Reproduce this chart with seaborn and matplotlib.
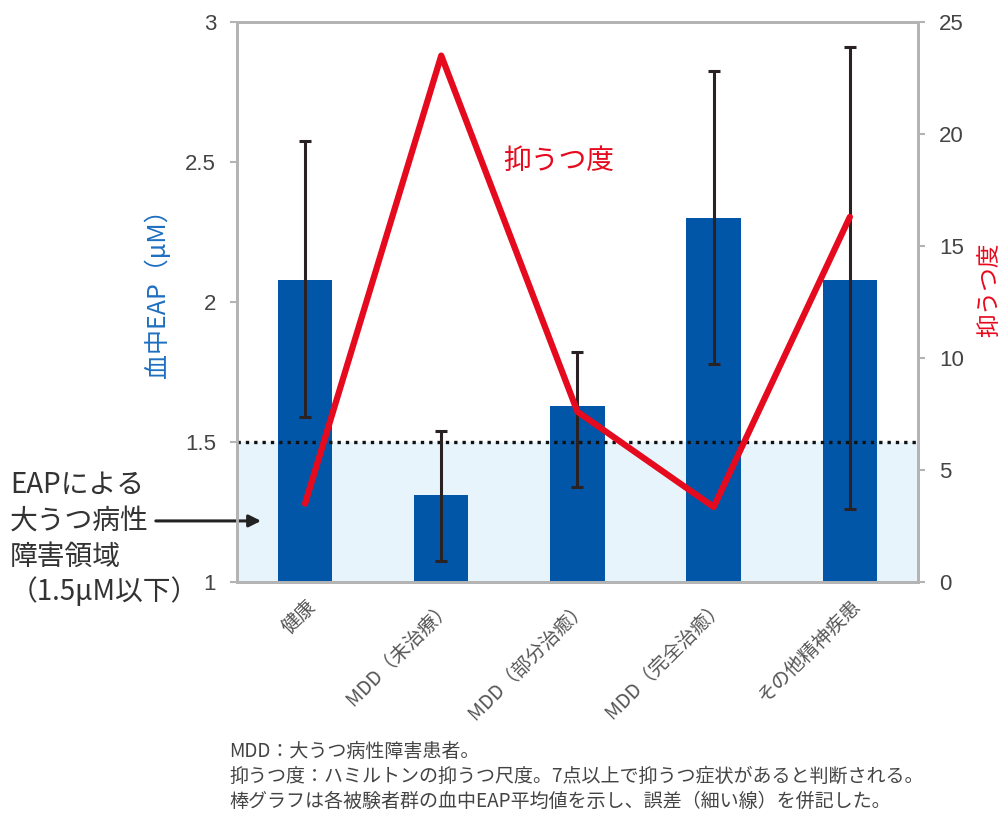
import matplotlib
matplotlib.use("Agg")
import matplotlib.pyplot as plt
import seaborn as sns
import numpy as np
import pandas as pd

# Groups and measurements
categories = ["健康", "MDD（未治療）", "MDD（部分治癒）", "MDD（完全治癒）", "その他精神疾患"]
eap_mean = [2.08, 1.31, 1.63, 2.30, 2.08]
eap_low = [1.59, 1.075, 1.34, 1.78, 1.26]
eap_high = [2.575, 1.54, 1.82, 2.825, 2.91]
depression = [3.5, 23.5, 7.6, 3.35, 16.3]
eap_threshold = 1.5

left_ticks = [1, 1.5, 2, 2.5, 3]
left_ticklabels = ["1", "1.5", "2", "2.5", "3"]
right_ticks = [0, 5, 10, 15, 20, 25]

footnotes = [
    "MDD：大うつ病性障害患者。",
    "抑うつ度：ハミルトンの抑うつ尺度。7点以上で抑うつ症状があると判断される。",
    "棒グラフは各被験者群の血中EAP平均値を示し、誤差（細い線）を併記した。",
]

sns.set_theme(style="white")
plt.rcParams["font.family"] = ["Noto Sans CJK JP", "DejaVu Sans"]

BLUE = "#0256A8"
RED = "#E60A1E"
GRAY = "#B4B4B4"
TEXT = "#333333"
NUM_FONT = ["Liberation Sans", "DejaVu Sans"]

df = pd.DataFrame({"group": categories, "eap": eap_mean, "dep": depression})

fig = plt.figure(figsize=(10.07, 8.21), dpi=100)
ax = fig.add_axes([0.2353, 0.2911, 0.9116 - 0.2353, 0.9732 - 0.2911])

# shaded region below the EAP threshold
ax.axhspan(1, eap_threshold, color="#E8F4FC", zorder=0, lw=0)

sns.barplot(data=df, x="group", y="eap", color=BLUE, saturation=1,
            width=0.4, errorbar=None, ax=ax, zorder=2, linewidth=0)

ax.axhline(eap_threshold, color="#111111", lw=2.4, ls=(0, (1, 1.5)), zorder=3)

xpos = np.arange(len(categories))
means = np.array(eap_mean)
yerr = [means - np.array(eap_low), np.array(eap_high) - means]
ax.errorbar(xpos, means, yerr=yerr, fmt="none", ecolor="#2a2222",
            elinewidth=2.2, capsize=4, capthick=2.2, zorder=4)

ax.set_xlim(-0.5, len(categories) - 0.5)
ax.set_ylim(1, 3)
ax.set_yticks(left_ticks)
ax.set_yticklabels(left_ticklabels, family=NUM_FONT)
ax.set_xticks(xpos)
ax.set_xticklabels(categories, rotation=45, ha="right", rotation_mode="anchor",
                   fontsize=14, color="#555555")
ax.set_xticks(np.arange(len(categories) + 1) - 0.5, minor=True)
ax.tick_params(axis="x", which="major", length=0, pad=10)
ax.tick_params(axis="x", which="minor", length=6, width=1.5, color=GRAY, direction="out")
ax.tick_params(axis="y", length=5, width=1.5, color=GRAY, direction="out",
               labelsize=16, labelcolor="#444444", pad=10)
ax.set_xlabel("")
ax.set_ylabel("血中EAP（μM）", color="#1E6FC0", fontsize=18)
ax.yaxis.set_label_coords(-0.097, 0.527)
for s in ax.spines.values():
    s.set_color(GRAY)
    s.set_linewidth(2)
    s.set_visible(True)

# depression score on the secondary axis
ax2 = ax.twinx()
sns.lineplot(data=df, x="group", y="dep", color=RED, lw=4.5, ax=ax2,
             sort=False, zorder=5)
ax2.set_ylim(0, 25)
ax2.set_yticks(right_ticks)
ax2.set_yticklabels([str(t) for t in right_ticks], family=NUM_FONT)
ax2.tick_params(axis="y", length=5, width=1.5, color=GRAY, direction="out",
                labelsize=16, labelcolor="#444444", pad=10)
ax2.set_ylabel("抑うつ度", color=RED, fontsize=17)
ax2.yaxis.set_label_coords(1.089, 0.521)
ax2.set_xlabel("")
for s in ax2.spines.values():
    s.set_color(GRAY)
    s.set_linewidth(2)

ax2.text(1.86, 18.8, "抑うつ度", color=RED, fontsize=20, ha="center", va="center")

# label and arrow for the shaded region
fig.text(0.010, 0.344, "EAPによる\n大うつ病性\n障害領域\n（1.5μM以下）",
         fontsize=20, color=TEXT, ha="left", va="center", linespacing=1.25)
ax.annotate("", xy=(0.262, 0.3655), xycoords="figure fraction",
            xytext=(0.152, 0.3655), textcoords="figure fraction",
            arrowprops=dict(arrowstyle="-|>", color="#222222", lw=2.2,
                            mutation_scale=18))

for i, line in enumerate(footnotes):
    fig.text(0.228, 1 - (751 + 25 * i) / 821, line, fontsize=13.7,
             color="#444444", ha="left", va="center")

fig.savefig("out.png", dpi=100)
